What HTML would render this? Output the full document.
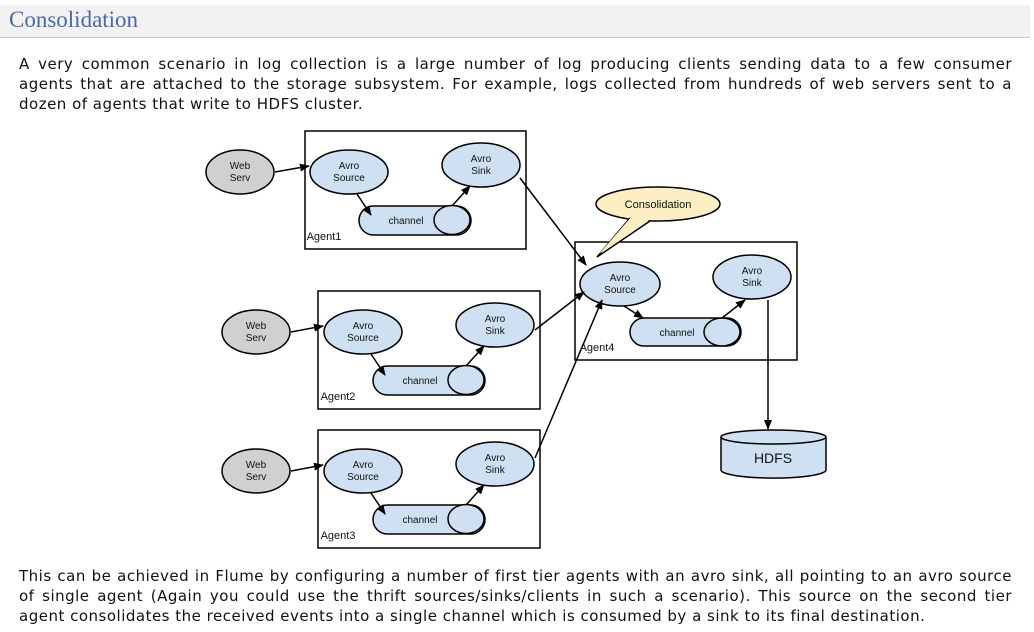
<!DOCTYPE html>
<html><head><meta charset="utf-8"><style>
body{margin:0;width:1034px;height:632px;background:#fff;overflow:hidden;font-family:"DejaVu Sans","Liberation Sans",sans-serif;}
.h{position:absolute;left:0;top:5px;width:1030px;height:32px;background:#f2f2f2;border-bottom:1px solid #ccc;}
.h span{position:absolute;left:9px;top:2px;font-family:"Liberation Serif",serif;font-size:23px;color:#4a68a8;}
p{position:absolute;left:19px;width:993px;margin:0;font-size:15px;line-height:20px;color:#111;letter-spacing:0.5px;white-space:nowrap;}
p span{display:block;text-align:justify;text-align-last:justify;}
p span.l{text-align-last:left;}
svg{position:absolute;left:0;top:0}
svg text{font-family:"Liberation Sans",sans-serif;font-size:10px;fill:#111;text-anchor:middle}
</style></head><body>
<div class="h"><span>Consolidation</span></div>
<p style="top:54px"><span>A very common scenario in log collection is a large number of log producing clients sending data to a few consumer</span><span>agents that are attached to the storage subsystem. For example, logs collected from hundreds of web servers sent to a</span><span class="l">dozen of agents that write to HDFS cluster.</span></p>
<svg width="1034" height="632">
<defs><marker id="a" markerWidth="10" markerHeight="10" refX="9" refY="5" orient="auto" markerUnits="userSpaceOnUse"><path d="M0,1 L10,5 L0,9z" fill="#000"/></marker></defs>
<g stroke="#000" stroke-width="1.5">
<rect x="305" y="131" width="221" height="118" fill="none"/>
<rect x="318" y="291" width="222" height="118" fill="none"/>
<rect x="318" y="430" width="222" height="118" fill="none"/>
<rect x="575" y="242" width="222" height="118" fill="none"/>
</g>
<g transform="translate(-2,0)">
<g stroke="#000" stroke-width="1.5">
<ellipse cx="242" cy="172" rx="34" ry="22" fill="#d0d0d0"/>
<ellipse cx="351" cy="172" rx="39" ry="22" fill="#cfe0f3"/>
<ellipse cx="483" cy="165" rx="39" ry="22" fill="#cfe0f3"/>
<rect x="361" y="206" width="112" height="29" rx="14.5" fill="#cfe0f3"/>
<ellipse cx="454" cy="220" rx="18" ry="14.5" fill="#cfe0f3"/>
<line x1="277" y1="172" x2="311" y2="166" marker-end="url(#a)"/>
<line x1="359" y1="194" x2="373" y2="215" marker-end="url(#a)"/>
<line x1="454" y1="206" x2="472" y2="186" marker-end="url(#a)"/>
</g>
<text x="242" y="169">Web</text><text x="242" y="181">Serv</text>
<text x="351" y="169">Avro</text><text x="351" y="181">Source</text>
<text x="483" y="162">Avro</text><text x="483" y="174">Sink</text>
<text x="408" y="224">channel</text>
<text x="326" y="240" style="font-size:11px">Agent1</text>
</g>
<g transform="translate(14,160)">
<g stroke="#000" stroke-width="1.5">
<ellipse cx="242" cy="172" rx="34" ry="22" fill="#d0d0d0"/>
<ellipse cx="349" cy="172" rx="39" ry="22" fill="#cfe0f3"/>
<ellipse cx="481" cy="165" rx="39" ry="22" fill="#cfe0f3"/>
<rect x="359" y="206" width="112" height="29" rx="14.5" fill="#cfe0f3"/>
<ellipse cx="452" cy="220" rx="18" ry="14.5" fill="#cfe0f3"/>
<line x1="277" y1="172" x2="309" y2="166" marker-end="url(#a)"/>
<line x1="357" y1="194" x2="371" y2="215" marker-end="url(#a)"/>
<line x1="452" y1="206" x2="470" y2="186" marker-end="url(#a)"/>
</g>
<text x="242" y="169">Web</text><text x="242" y="181">Serv</text>
<text x="349" y="169">Avro</text><text x="349" y="181">Source</text>
<text x="481" y="162">Avro</text><text x="481" y="174">Sink</text>
<text x="406" y="224">channel</text>
<text x="324" y="240" style="font-size:11px">Agent2</text>
</g>
<g transform="translate(14,299)">
<g stroke="#000" stroke-width="1.5">
<ellipse cx="242" cy="172" rx="34" ry="22" fill="#d0d0d0"/>
<ellipse cx="349" cy="172" rx="39" ry="22" fill="#cfe0f3"/>
<ellipse cx="481" cy="165" rx="39" ry="22" fill="#cfe0f3"/>
<rect x="359" y="206" width="112" height="29" rx="14.5" fill="#cfe0f3"/>
<ellipse cx="452" cy="220" rx="18" ry="14.5" fill="#cfe0f3"/>
<line x1="277" y1="172" x2="309" y2="166" marker-end="url(#a)"/>
<line x1="357" y1="194" x2="371" y2="215" marker-end="url(#a)"/>
<line x1="452" y1="206" x2="470" y2="186" marker-end="url(#a)"/>
</g>
<text x="242" y="169">Web</text><text x="242" y="181">Serv</text>
<text x="349" y="169">Avro</text><text x="349" y="181">Source</text>
<text x="481" y="162">Avro</text><text x="481" y="174">Sink</text>
<text x="406" y="224">channel</text>
<text x="324" y="240" style="font-size:11px">Agent3</text>
</g>
<g stroke="#000" stroke-width="1.5">
<ellipse cx="620" cy="284" rx="40" ry="22" fill="#cfe0f3"/>
<ellipse cx="752" cy="277" rx="39" ry="22" fill="#cfe0f3"/>
<rect x="630" y="318" width="111" height="28" rx="14" fill="#cfe0f3"/>
<ellipse cx="722" cy="332" rx="18" ry="14" fill="#cfe0f3"/>
<line x1="624" y1="306" x2="643" y2="318" marker-end="url(#a)"/>
<line x1="722" y1="318" x2="745" y2="300" marker-end="url(#a)"/>
<line x1="768" y1="300" x2="768" y2="429" marker-end="url(#a)"/>
<line x1="520" y1="178" x2="586" y2="265" marker-end="url(#a)"/>
<line x1="535" y1="330" x2="584" y2="292" marker-end="url(#a)"/>
<line x1="535" y1="458" x2="602" y2="300" marker-end="url(#a)"/>
<ellipse cx="658" cy="204" rx="62" ry="17" fill="#fdefc4"/>
<path d="M630,218 L597,257 L650,221" fill="#fdefc4"/>
<path d="M721,437 L721,470 A52,8 0 0,0 826,470 L826,437" fill="#cfe0f3"/>
<ellipse cx="773.5" cy="437" rx="52.5" ry="7" fill="#cfe0f3"/>
</g>
<path d="M632,216 L599,254 L650,219Z" fill="#fdefc4" stroke="none"/>
<text x="620" y="281">Avro</text><text x="620" y="293">Source</text>
<text x="752" y="274">Avro</text><text x="752" y="286">Sink</text>
<text x="677" y="336">channel</text>
<text x="597" y="351" style="font-size:11px">Agent4</text>
<text x="658" y="208" style="font-size:11px">Consolidation</text>
<text x="773" y="463" style="font-size:14px">HDFS</text>
</svg>
<p style="top:566px"><span>This can be achieved in Flume by configuring a number of first tier agents with an avro sink, all pointing to an avro source</span><span>of single agent (Again you could use the thrift sources/sinks/clients in such a scenario). This source on the second tier</span><span class="l">agent consolidates the received events into a single channel which is consumed by a sink to its final destination.</span></p>
</body></html>
